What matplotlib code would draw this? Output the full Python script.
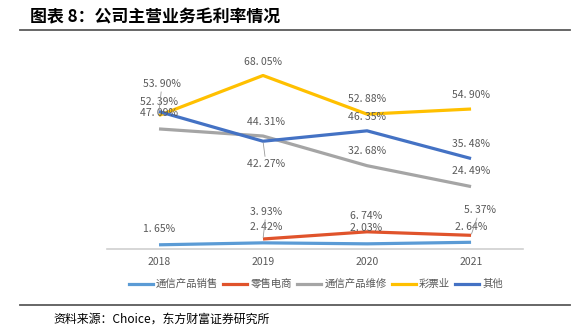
import matplotlib.pyplot as plt
from matplotlib.lines import Line2D

plt.rcParams['font.family'] = ['Noto Sans CJK SC', 'DejaVu Sans']

years = ['2018', '2019', '2020', '2021']
series_names = ['通信产品销售', '零售电商', '通信产品维修', '彩票业', '其他']
comm_sales = [1.65, 2.42, 2.03, 2.64]
retail_ecom = [None, 3.93, 6.74, 5.37]
comm_repair = [47.09, 44.31, 32.68, 24.49]
lottery = [52.39, 68.05, 52.88, 54.90]
other = [53.90, 42.27, 46.35, 35.48]

colors = ['#5B9BD5', '#E0532B', '#A5A5A5', '#FFC000', '#4472C4']
all_series = [comm_sales, retail_ecom, comm_repair, lottery, other]

# label offsets in pixels (dx, dy) for each series / year; leaders flag moved labels
offsets = {
    0: [(0, 16), (3, 16), (-1, 15.5), (0, 15.5)],
    1: [None, (3, 27), (-1, 16), (8.5, 25)],
    2: [(0, 16), (3, 14.5), (0, 15), (0, 16)],
    3: [(0, 13.7), (0, 13.5), (0, 15), (0, 14)],
    4: [(3, 27.5), (3, -23), (0, 14), (0, 15)],
}
leaders = {(4, 0), (4, 1), (1, 1), (1, 3)}

fig = plt.figure(figsize=(5.86, 3.31), dpi=100)
ax = fig.add_axes([0.1826, 0.2477, 0.71, 0.6163])

x = list(range(len(years)))
for i, vals in enumerate(all_series):
    pts = [(xi, v) for xi, v in zip(x, vals) if v is not None]
    ax.plot([p[0] for p in pts], [p[1] for p in pts], color=colors[i], lw=2.3,
            solid_capstyle='butt', zorder=3)

for i, vals in enumerate(all_series):
    for j, v in enumerate(vals):
        if v is None:
            continue
        dx, dy = offsets[i][j]
        arrow = None
        if (i, j) in leaders:
            arrow = dict(arrowstyle='-', color='#9a9a9a', lw=0.6, shrinkA=0, shrinkB=1)
        ax.annotate(f'{v:.2f}%'.replace('.', '. '), (j, v), xytext=(dx, dy),
                    textcoords='offset pixels', ha='center', va='center',
                    fontsize=7.5, color='#595959', arrowprops=arrow, zorder=4)

ax.set_xlim(-0.5, 3.5)
ax.set_ylim(0, 80)
ax.set_xticks(x)
ax.set_xticklabels(years, fontsize=7.5, color='#595959')
ax.tick_params(axis='x', length=0, pad=6)
ax.set_yticks([])
for side in ['left', 'right', 'top']:
    ax.spines[side].set_visible(False)
ax.spines['bottom'].set_color('#d0d0d0')
ax.spines['bottom'].set_linewidth(1.2)

handles = [Line2D([0], [0], color=c, lw=2.3) for c in colors]
fig.legend(handles, series_names, loc='center', bbox_to_anchor=(316 / 586, 1 - 284 / 331),
           ncol=5, frameon=False, fontsize=7.5, labelcolor='#595959',
           handlelength=2.3, handletextpad=0.3, columnspacing=0.5)

# header and footer
fig.text(30 / 586, 1 - 17 / 331, '图表 8：公司主营业务毛利率情况', fontsize=12.2,
         fontweight='bold', va='center', ha='left', color='#000000')
fig.add_artist(Line2D([20 / 586, 570 / 586], [1 - 30 / 331] * 2, color='#5a5a5a', lw=1.3))
fig.add_artist(Line2D([20 / 586, 570 / 586], [1 - 305 / 331] * 2, color='#5a5a5a', lw=1.3))
fig.text(53 / 586, 1 - 319 / 331, '资料来源：Choice，东方财富证券研究所', fontsize=8.6,
         va='center', ha='left', color='#000000')

fig.savefig('out.png', dpi=100)
plt.close('all')
